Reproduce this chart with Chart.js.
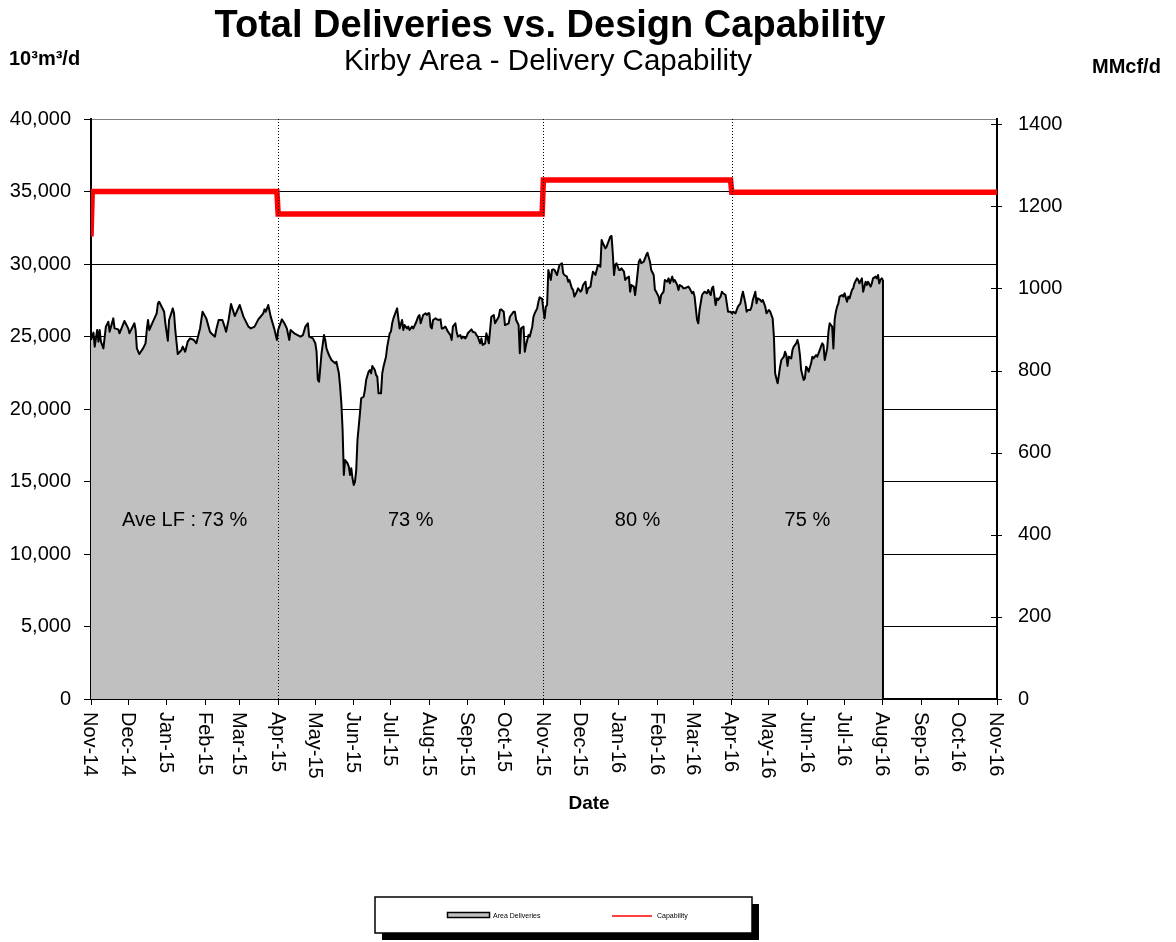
<!DOCTYPE html>
<html><head><meta charset="utf-8">
<script src="https://cdn.jsdelivr.net/npm/chart.js@4.4.0/dist/chart.umd.min.js"></script>
<style>html,body{margin:0;padding:0;background:#fff}canvas{display:block}</style>
</head><body><canvas id="c" width="1176" height="942"></canvas>
<script>
// x axis: days since 1 Nov 2014
const monthStartDays = [0,30,61,92,120,151,181,212,242,273,304,334,365,395,426,457,486,517,547,578,608,639,670,700,731];
const monthLabels = ['Nov-14','Dec-14','Jan-15','Feb-15','Mar-15','Apr-15','May-15','Jun-15','Jul-15','Aug-15','Sep-15','Oct-15',
  'Nov-15','Dec-15','Jan-16','Feb-16','Mar-16','Apr-16','May-16','Jun-16','Jul-16','Aug-16','Sep-16','Oct-16','Nov-16'];
const leftTicks = [0,5000,10000,15000,20000,25000,30000,35000,40000];
const rightTicks = [0,200,400,600,800,1000,1200,1400];
const MMCF_PER_E3M3 = 0.0353147;

const deliveryDays = [
  0,2,3,5,6,7,8,10,12,14, 15,18,19,22,23,27,30,31,35,36, 37,39,42,44,45,46,47,50,53,54,
  55,59,60,62,63,66,67,68,70,73, 74,76,78,80,83,85,88,90,93,96, 97,100,101,103,106,108,109,111,113,116,
  120,123,127,129,132,135,139,140,141,143, 145,148,150,151,154,156,158,
  160,161,164,169,171,173,175,176,179,181, 182,183,184,186,188,189,190,192,194,197,
  198,200,201,202,203,204,205,206,207,208, 209,210,211,212,213,214,215,217,218,220,
  221,222,224,225,226,227,229,230,231,232, 234,235,236,238,239,241,242,243,244,246,
  247,248,249,251,252,253,255,256,257,259, 260,262,264,265,266,268,270,271,272,273,
  274,275,276,278,280,282,283,284,286,288, 290,291,292,294,295,296,298,299,300,302,
  303,304,307,308,310,311,312,314,315,316, 318,
  319,321,323,325,326,329,330,331,333,334, 337,338,341,342,343,345,346,347,349,350,
  351,353,354,356,357,358,360,361,362,364, 365,366,367,368,369,371,372,373,374,376,
  377,378,380,381,382,384,385,386,388,389, 390,392,393,395,396,397,399,400,401,403,
  404,405,407,408,409,411,412,413,415,416, 417,419,420,421,422,423,424,426,427,428,
  430,431,432,434,435,436,438,439,440,442, 443,444,446,447,448,449,451,452,454,455,
  456,458,459,460,462,463,465,466,467,469, 470,471,473,474,475,477,478,479,
  482,483,485,486,487,489,490,491,493,494, 495,497,498,500,501,502,504,505,506,508,
  509,510,512,513,514,516,517,518,520,521, 522,524,525,526,528,529,530,532,533,534,
  536,537,538,540,541,542,544,545,547,548, 549,550,551,552,553,554,555,556,557,559,
  560,561,562,563,565,566,567,569,570,571, 572,573,575,576,577,578,579,581,582,583,
  585,586,587,589,590,591,592,594,595,596, 598,599,600,601,602,603,604,606,607,608,
  610,611,612,614,615,616,618,619,620,622, 623,625,626,627,629,630,631,633,634,635,
  636,637,638,639
];
const deliveryValues = [
  24760,25270,24300,25450,24640,25450,24640,24180,25680,26020, 25330,26250,25560,25490,25220,26070,25560,25220,25910,25450, 24180,23790,24180,24530,25450,26140,25450,26020,26600,27290,
  27400,26710,25910,24710,26140,26940,26600,25450,23790,24070, 24300,23950,24640,24870,24760,24530,25560,26710,26250,25330, 25220,24990,25450,26140,26140,25630,25330,26140,27240,26410,
  27170,26370,25680,25560,25680,26180,26600,26870,26710,27170, 26370,25490,24760,25450,26180,25910,25560,
  24760,25450,25220,24990,25100,25680,25910,24990,24870,24530, 23950,22000,21890,23840,25100,24760,24180,23720,23380,23150,
  23260,22460,21540,20390,18550,15450,16480,16370,16250,16020, 15450,15910,15220,14760,14990,15790,17860,19700,20740,20850,
  21310,22000,22580,22690,22460,22970,22690,22350,22230,21080, 21080,22460,22920,23610,24300,25220,25330,25910,26250,26710,
  26940,26250,25560,26140,25450,25790,25560,25680,25450,25680, 25560,25910,26370,26480,25910,26480,26600,26480,26600,26600,
  25680,25560,26140,26250,26140,26180,25560,25560,25680,25330, 25100,24760,25680,25910,25330,24990,25100,24870,24990,24870,
  24990,25220,25490,25330,25270,25100,24990,24530,24870,24410, 24530,
  25220,24530,26360,26480,25910,26360,26830,26870,26710,25790, 25910,26360,26710,26710,26140,25790,23840,25560,25680,23950,
  24410,25100,24990,25680,26360,26600,26940,27400,27700,27590, 26830,26250,27060,27170,29590,28900,29590,29630,29590,29240,
  29590,29930,30050,29360,29240,29130,28780,28900,28320,28210, 27750,28090,28320,28090,28210,28550,28780,27980,28320,28440,
  29010,29470,29240,29590,29930,29820,31660,31430,31080,31200, 31430,31890,31930,30740,29240,29930,30050,29590,29590,29700,
  29470,28900,29010,29130,28090,28550,28440,27860,28550,30160, 30320,30050,30160,30390,30620,30780,30160,29590,29240,28210,
  28090,27750,27290,27860,28090,28900,28780,29010,28670,29130, 28780,28900,28550,28210,28550,28440,28320,28320,
  28440,28320,27980,28090,27750,26140,25910,26830,27860,27980, 28090,27980,28210,27860,28320,28440,27170,27630,27520,27750,
  28090,27980,27860,27290,26710,26710,26600,26710,26600,26830, 27060,27290,27750,28090,27290,26710,26830,26830,27060,27520,
  28090,27290,27630,27520,27400,27520,27060,26600,26830,26710, 26480,26250,24990,22460,22110,21770,22340,22920,23380,23610,
  23950,23720,22970,23610,23490,24070,24300,24530,24760,24410, 23720,22690,22000,22110,22920,22800,22570,23150,23610,23490,
  23720,23610,23840,24300,24530,24410,23380,24180,25330,25910, 25680,24180,26140,26710,27060,27290,27750,27860,27750,27980,
  27400,27750,27630,28210,28320,28670,29010,28900,28670,29010, 28090,28780,28550,28780,28440,28670,29010,29130,29010,29240,
  28670,28900,29010,28900
];
const capabilityDays = [0,1,150,151,364,365,516,517,731];
const capabilityValues = [31900,35000,35000,33450,33450,35800,35800,34950,34950];

const periodBounds = [0,151,365,517,639];
const loadFactorLabels = ['Ave LF : 73 %','73 %','80 %','75 %'];
const loadFactorLabelLevel = 12300;

const FONT = "'Liberation Sans', Arial, Helvetica, sans-serif";

const decor = {
  id: 'decor',
  afterDatasetsDraw(chart) {
    const ctx = chart.ctx, xs = chart.scales.x, ys = chart.scales.y, a = chart.chartArea;
    ctx.save();
    const ld = deliveryDays[deliveryDays.length - 1], lv = deliveryValues[deliveryValues.length - 1];
    const lx = xs.getPixelForValue(ld);
    ctx.strokeStyle = '#000'; ctx.lineWidth = 2;
    ctx.beginPath(); ctx.moveTo(lx, ys.getPixelForValue(lv)); ctx.lineTo(lx, ys.getPixelForValue(0)); ctx.stroke();
    ctx.lineWidth = 1; ctx.setLineDash([1, 2]);
    for (let i = 1; i < periodBounds.length - 1; i++) {
      const px = Math.round(xs.getPixelForValue(periodBounds[i])) + 0.5;
      ctx.beginPath(); ctx.moveTo(px, a.top); ctx.lineTo(px, a.bottom); ctx.stroke();
    }
    ctx.setLineDash([]);
    ctx.fillStyle = '#000'; ctx.font = '20px ' + FONT; ctx.textAlign = 'center'; ctx.textBaseline = 'middle';
    for (let i = 0; i < loadFactorLabels.length; i++) {
      const cx = (xs.getPixelForValue(periodBounds[i]) + xs.getPixelForValue(periodBounds[i + 1])) / 2;
      ctx.fillText(loadFactorLabels[i], cx, ys.getPixelForValue(loadFactorLabelLevel));
    }
    ctx.restore();
  },
  afterDraw(chart) {
    const ctx = chart.ctx, xs = chart.scales.x, yr = chart.scales.y2, a = chart.chartArea;
    ctx.save();
    ctx.fillStyle = '#000';
    ctx.textAlign = 'center'; ctx.textBaseline = 'alphabetic';
    ctx.font = 'bold 38px ' + FONT; ctx.fillText('Total Deliveries vs. Design Capability', 550, 37);
    ctx.font = '29.5px ' + FONT; ctx.fillText('Kirby Area - Delivery Capability', 548, 70);
    ctx.textAlign = 'left';
    ctx.font = 'bold 20px ' + FONT; ctx.fillText('10\u00B3m\u00B3/d', 9, 65);
    ctx.fillText('MMcf/d', 1092, 73);
    ctx.textAlign = 'center'; ctx.font = 'bold 19px ' + FONT; ctx.fillText('Date', 589, 809);
    ctx.font = '20px ' + FONT; ctx.textAlign = 'left'; ctx.textBaseline = 'middle';
    monthStartDays.forEach((d, i) => {
      const px = xs.getPixelForValue(d);
      ctx.save(); ctx.translate(px, a.bottom + 13); ctx.rotate(Math.PI / 2);
      ctx.fillText(monthLabels[i], 0, 1); ctx.restore();
    });
    ctx.strokeStyle = '#000'; ctx.lineWidth = 1;
    rightTicks.forEach(v => {
      const py = Math.round(yr.getPixelForValue(v)) + 0.5;
      ctx.beginPath(); ctx.moveTo(a.right - 6, py); ctx.lineTo(a.right + 5, py); ctx.stroke();
    });
    const L = 375, T = 897, W = 377, H = 36;
    ctx.fillStyle = '#000'; ctx.fillRect(L + 7, T + 7, W, H);
    ctx.fillStyle = '#fff'; ctx.fillRect(L, T, W, H);
    ctx.strokeStyle = '#000'; ctx.lineWidth = 1.5; ctx.strokeRect(L, T, W, H);
    const ds = chart.data.datasets;
    ctx.fillStyle = ds[1].backgroundColor; ctx.fillRect(447.5, 912.5, 42, 5);
    ctx.lineWidth = 1.5; ctx.strokeStyle = '#000'; ctx.strokeRect(447.5, 912.5, 42, 5);
    ctx.strokeStyle = ds[0].borderColor; ctx.lineWidth = 1.5;
    ctx.beginPath(); ctx.moveTo(612, 916); ctx.lineTo(652, 916); ctx.stroke();
    ctx.fillStyle = '#000'; ctx.font = '7px ' + FONT; ctx.textAlign = 'left'; ctx.textBaseline = 'middle';
    ctx.fillText(ds[1].label, 493, 916);
    ctx.fillText(ds[0].label, 657, 916);
    ctx.restore();
  }
};

new Chart(document.getElementById('c'), {
  type: 'line',
  data: {
    datasets: [
      {
        label: 'Capability',
        data: capabilityDays.map((d, i) => ({ x: d, y: capabilityValues[i] })),
        borderColor: '#FF0000', borderWidth: 5.5, pointRadius: 0, fill: false, tension: 0, order: 0
      },
      {
        label: 'Area Deliveries',
        data: deliveryDays.map((d, i) => ({ x: d, y: deliveryValues[i] })),
        borderColor: '#000', backgroundColor: '#C0C0C0', borderWidth: 2, pointRadius: 0,
        fill: 'origin', tension: 0, order: 1, borderJoinStyle: 'round'
      }
    ]
  },
  options: {
    responsive: false, animation: false, events: [],
    layout: { padding: { top: 119, left: 0, right: 0, bottom: 0 } },
    plugins: { legend: { display: false }, tooltip: { enabled: false }, title: { display: false } },
    scales: {
      x: {
        type: 'linear', min: 0, max: 731,
        afterBuildTicks: s => { s.ticks = monthStartDays.map(v => ({ value: v })); },
        ticks: { display: false },
        grid: { drawOnChartArea: false, drawTicks: true, tickLength: 6, color: '#000', lineWidth: 1 },
        border: { display: true, color: '#000', width: 2 },
        afterFit: s => { s.height = 243; }
      },
      y: {
        position: 'left', min: 0, max: 40000,
        afterBuildTicks: s => { s.ticks = leftTicks.map(v => ({ value: v })); },
        ticks: { font: { family: FONT, size: 20 }, color: '#000', padding: 13, callback: v => v.toLocaleString('en-US') },
        grid: { color: c => (c.tick && c.tick.value === 40000) ? '#808080' : '#000', tickColor: '#000', lineWidth: 1, tickLength: 7 },
        border: { color: '#000', width: 2 },
        afterFit: s => { s.width = 91; }
      },
      y2: {
        position: 'right', min: 0, max: 40000 * MMCF_PER_E3M3,
        afterBuildTicks: s => { s.ticks = rightTicks.map(v => ({ value: v })); },
        ticks: { font: { family: FONT, size: 20 }, color: '#000', padding: 21, callback: v => String(v) },
        grid: { drawOnChartArea: false, drawTicks: false },
        border: { color: '#000', width: 2 },
        afterFit: s => { s.width = 179; }
      }
    }
  },
  plugins: [decor]
});
</script>
</body></html>
